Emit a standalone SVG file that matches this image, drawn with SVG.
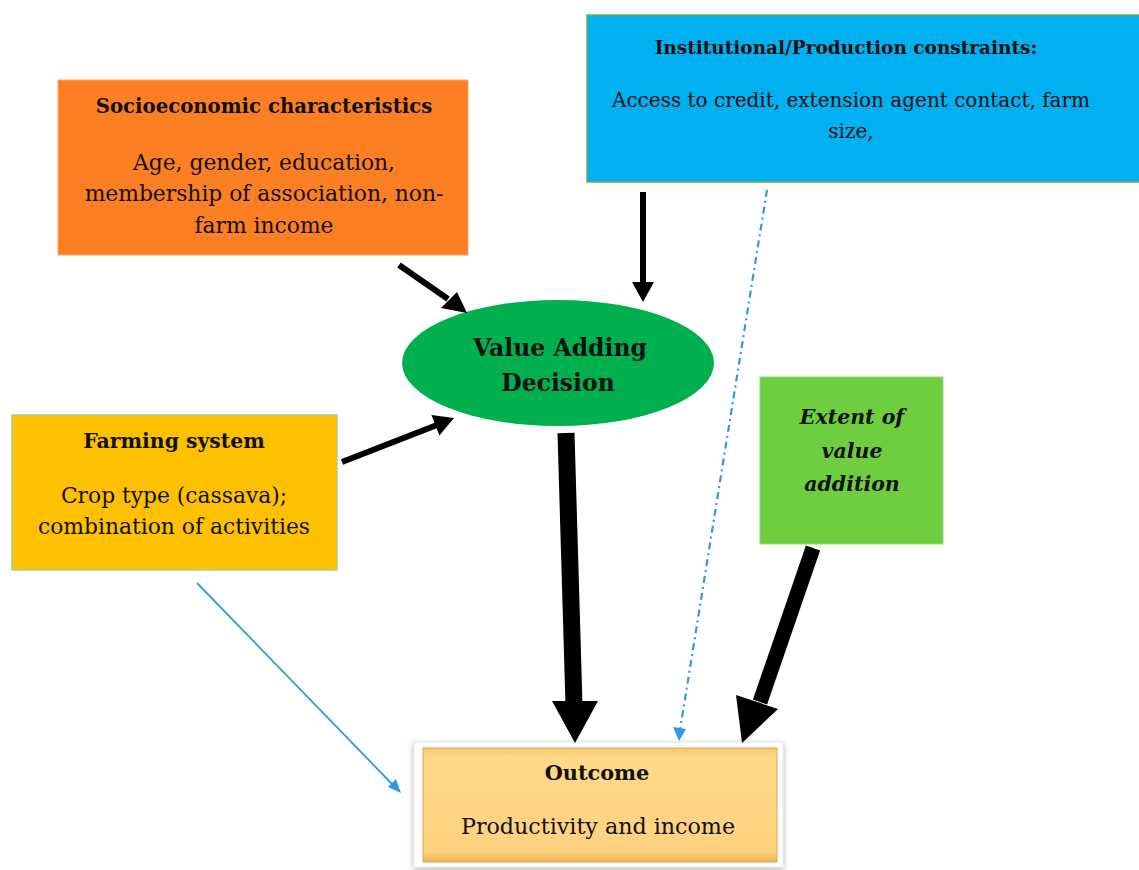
<svg xmlns="http://www.w3.org/2000/svg" width="1139" height="870" viewBox="0 0 1139 870">
<style>
text{font-family:"DejaVu Serif","Liberation Serif",serif;fill:#111;text-anchor:middle}
.b{font-weight:bold}
.bi{font-weight:bold;font-style:italic}
.blk{stroke:#000;fill:none}
</style>
<defs>
<linearGradient id="og" x1="0" y1="0" x2="0" y2="1">
<stop offset="0" stop-color="#F7C768"/>
<stop offset="0.08" stop-color="#FFD88A"/>
<stop offset="0.9" stop-color="#FFD280"/>
<stop offset="1" stop-color="#EDB45A"/>
</linearGradient>
<filter id="sh" x="-10%" y="-10%" width="120%" height="130%">
<feGaussianBlur in="SourceAlpha" stdDeviation="3"/>
<feOffset dx="0" dy="2"/>
<feComponentTransfer><feFuncA type="linear" slope="0.3"/></feComponentTransfer>
<feMerge><feMergeNode/><feMergeNode in="SourceGraphic"/></feMerge>
</filter>
</defs>
<rect width="1139" height="870" fill="#fff"/>

<g id="socio">
<rect x="58" y="80" width="410" height="175" fill="#FD7F24" stroke="#F5A96A" stroke-width="1"/>
<text x="264" y="113" class="b" font-size="19.7">Socioeconomic characteristics</text>
<text x="264" y="170" font-size="21.8">Age, gender, education,</text>
<text x="264" y="201" font-size="21.8">membership of association, non-</text>
<text x="264" y="233" font-size="21.8">farm income</text>
</g>

<g id="institutional">
<rect x="587" y="15" width="560" height="167" fill="#00B0F0" stroke="#70AD47" stroke-width="1.5"/>
<text x="846" y="54" class="b" font-size="18.5">Institutional/Production constraints:</text>
<text x="851" y="107" font-size="20">Access to credit, extension agent contact, farm</text>
<text x="851" y="138" font-size="20">size,</text>
</g>

<g id="decision">
<ellipse cx="558" cy="363" rx="156" ry="63" fill="#00B04F"/>
<text x="560" y="356" class="b" font-size="23.5">Value Adding</text>
<text x="558" y="391" class="b" font-size="23.5">Decision</text>
</g>

<g id="farming">
<rect x="12" y="415" width="325" height="155" fill="#FFC000" stroke="#A9D18E" stroke-width="1.5"/>
<text x="174" y="448" class="b" font-size="20.4">Farming system</text>
<text x="174" y="503" font-size="21.8">Crop type (cassava);</text>
<text x="174" y="534" font-size="21.8">combination of activities</text>
</g>

<g id="extent">
<rect x="760" y="377" width="183" height="167" fill="#6ECE3F" stroke="#9AD67A" stroke-width="1"/>
<text x="852" y="424" class="bi" font-size="20.5">Extent of</text>
<text x="852" y="458" class="bi" font-size="20.5">value</text>
<text x="852" y="491" class="bi" font-size="20.5">addition</text>
</g>

<g id="outcome">
<rect x="414" y="742" width="369" height="125" fill="#fff" stroke="#e6e6e6" stroke-width="1" filter="url(#sh)"/>
<rect x="423" y="748" width="354" height="114" fill="url(#og)" stroke="#E0A848" stroke-width="1"/>
<text x="597" y="780" class="b" font-size="20.8">Outcome</text>
<text x="598" y="834" font-size="22.2">Productivity and income</text>
</g>

<g id="connectors">
<line x1="399" y1="265" x2="448" y2="299" class="blk" stroke-width="6"/>
<polygon points="467,313 441,308 457,292" fill="#000"/>
<line x1="643" y1="192" x2="643" y2="284" class="blk" stroke-width="6"/>
<polygon points="643,302 632,282 654,282" fill="#000"/>
<line x1="342" y1="462" x2="437" y2="425" class="blk" stroke-width="6"/>
<polygon points="454,418 439.4,435.5 431.4,415.1" fill="#000"/>
<line x1="566" y1="433" x2="574" y2="705" class="blk" stroke-width="17"/>
<polygon points="575,743 552,701 598,701" fill="#000"/>
<line x1="813" y1="548" x2="760" y2="702" class="blk" stroke-width="15"/>
<polygon points="742,743 736,695 778,709" fill="#000"/>
<line x1="767" y1="190" x2="680" y2="730" stroke="#2E9BE0" stroke-width="2.2" stroke-dasharray="7,4,2,4"/>
<polygon points="679,741 673,727 686,729" fill="#2E9BE0"/>
<line x1="197" y1="583" x2="393" y2="785" stroke="#2E9BE0" stroke-width="1.8"/>
<polygon points="401,793 388,787 396,779" fill="#2E9BE0"/>
</g>
</svg>
